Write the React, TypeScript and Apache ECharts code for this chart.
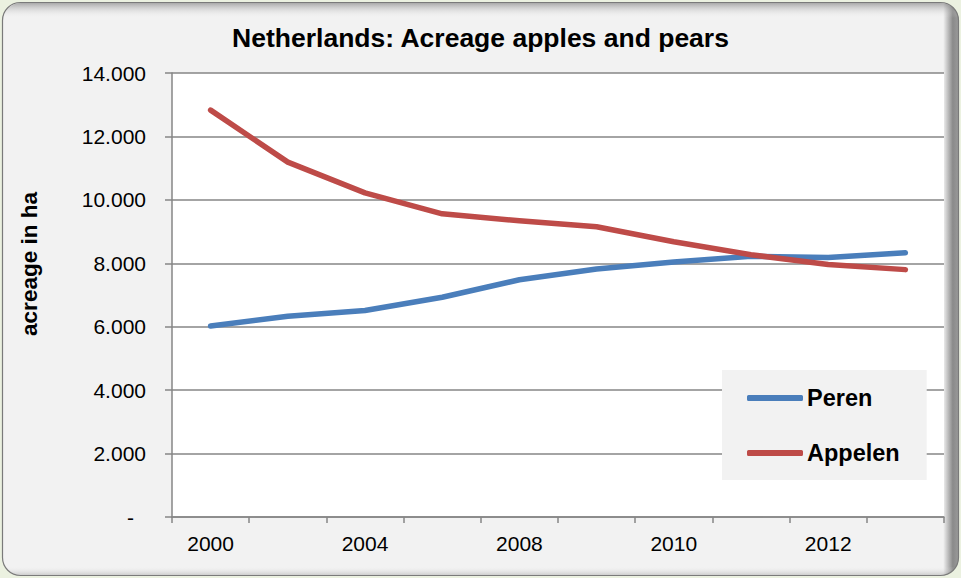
import React, { useEffect, useRef } from "react";
import * as echarts from "echarts";

const titleText = "Netherlands: Acreage apples and pears";
const yAxisName = "acreage in ha";
const years = ["2000", "2002", "2004", "2006", "2008", "2009", "2010", "2011", "2012", "2013"];
const seriesNames = ["Peren", "Appelen"];
const peren = [6020, 6330, 6510, 6930, 7480, 7820, 8040, 8220, 8180, 8330];
const appelen = [12830, 11190, 10220, 9560, 9340, 9150, 8680, 8270, 7960, 7800];
const yMin = 0;
const yMax = 14000;
const yStep = 2000;

const FONT = "'Liberation Sans', Arial, Helvetica, sans-serif";

function fmt(v: number): string {
  if (v === 0) return "{d|-}";
  return String(v).replace(/\B(?=(\d{3})+(?!\d))/g, ".");
}

export default function App() {
  const ref = useRef<HTMLDivElement>(null);
  useEffect(() => {
    if (!ref.current) return;
    const chart = echarts.init(ref.current, undefined, { renderer: "svg" });
    chart.setOption({
      animation: false,
      backgroundColor: "#ebf1e0",
      textStyle: { fontFamily: FONT },
      graphic: [
        {
          type: "rect",
          z: -10,
          silent: true,
          shape: { x: 2.5, y: 2.5, width: 956, height: 573, r: 18 },
          style: {
            fill: new echarts.graphic.LinearGradient(0, 0, 1, 0, [
              { offset: 0, color: "#f2f2f2" },
              { offset: 0.984, color: "#f2f2f2" },
              { offset: 0.994, color: "#8a8a8a" },
              { offset: 1, color: "#9a9a9a" },
            ]),
            stroke: "#7a7a7a",
            lineWidth: 1.2,
          },
        },
        {
          type: "rect",
          z: -9,
          silent: true,
          shape: { x: 3, y: 3, width: 955, height: 572, r: 18 },
          style: {
            fill: new echarts.graphic.LinearGradient(0, 0, 0, 1, [
              { offset: 0, color: "rgba(110,110,110,0.55)" },
              { offset: 0.026, color: "rgba(242,242,242,0)" },
              { offset: 0.985, color: "rgba(242,242,242,0)" },
              { offset: 1, color: "rgba(150,150,150,0.4)" },
            ]),
          },
        },
      ],
      title: {
        text: titleText,
        left: "center",
        top: 24,
        padding: 0,
        textStyle: { fontSize: 26.5, fontWeight: "bold", color: "#000", fontFamily: FONT },
      },
      legend: {
        data: seriesNames,
        orient: "vertical",
        left: 722,
        top: 370,
        padding: [16, 27, 15, 25],
        backgroundColor: "#f2f2f2",
        itemWidth: 56,
        itemHeight: 6,
        itemGap: 31,
        icon: "roundRect",
        textStyle: { fontSize: 23.5, fontWeight: "bold", color: "#000", fontFamily: FONT, padding: [0, 0, 0, -1] },
      },
      grid: {
        left: 172,
        right: 17,
        top: 73,
        bottom: 61,
        show: true,
        backgroundColor: "#ffffff",
        borderWidth: 0,
      },
      xAxis: {
        type: "category",
        data: years,
        boundaryGap: true,
        axisLine: { lineStyle: { color: "#868686", width: 1.5 } },
        axisTick: { show: true, interval: 0, length: 6, lineStyle: { color: "#868686", width: 1.5 } },
        axisLabel: { interval: 1, margin: 16, fontSize: 21, color: "#000", fontFamily: FONT },
        splitLine: { show: false },
      },
      yAxis: {
        type: "value",
        min: yMin,
        max: yMax,
        interval: yStep,
        name: yAxisName,
        nameLocation: "middle",
        nameGap: 131,
        nameTextStyle: {
          fontSize: 22.5,
          fontWeight: "bold",
          color: "#000",
          fontFamily: FONT,
          padding: [0, 0, 0, 62],
        },
        axisLine: { show: true, lineStyle: { color: "#868686", width: 1.5 } },
        axisTick: { show: true, length: 7, lineStyle: { color: "#868686", width: 1.5 } },
        axisLabel: {
          margin: 26,
          fontSize: 21,
          color: "#000",
          fontFamily: FONT,
          formatter: fmt,
          rich: { d: { fontSize: 21, color: "#000", fontFamily: FONT, padding: [0, 12, 0, 0] } },
        },
        splitLine: { show: true, lineStyle: { color: "#868686", width: 1.5 } },
      },
      series: [
        {
          name: seriesNames[0],
          type: "line",
          data: peren,
          symbol: "none",
          lineStyle: { color: "#4a7ebb", width: 5.5, cap: "round", join: "round" },
          itemStyle: { color: "#4a7ebb" },
        },
        {
          name: seriesNames[1],
          type: "line",
          data: appelen,
          symbol: "none",
          lineStyle: { color: "#be4b48", width: 5.5, cap: "round", join: "round" },
          itemStyle: { color: "#be4b48" },
        },
      ],
    });
    return () => chart.dispose();
  }, []);
  return (
    <div
      ref={ref}
      style={{ position: "fixed", left: 0, top: 0, width: 961, height: 578 }}
    />
  );
}
